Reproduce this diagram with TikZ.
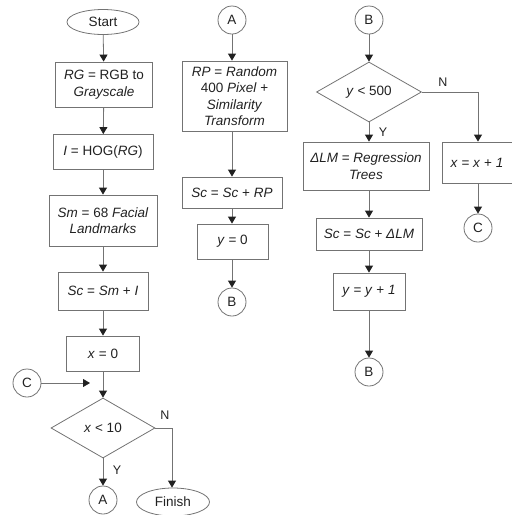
\documentclass[tikz,border=0pt]{standalone}
\usepackage{fontspec}
\setmainfont{Liberation Sans}
\usetikzlibrary{shapes.geometric,arrows.meta}
\definecolor{linegray}{gray}{0.45}
\definecolor{txt}{gray}{0.13}
\tikzset{
  base/.style={draw=linegray, line width=0.8pt, text=txt, align=center, inner sep=0pt,
    font=\fontsize{13.5}{16.5}\selectfont},
  box/.style={base, rectangle},
  term/.style={base, ellipse},
  conn/.style={base, circle, minimum size=28pt},
  dec/.style={base, diamond},
  arr/.style={draw=linegray, line width=0.8pt, -{Triangle[width=8pt,length=7pt,color=txt]}},
  plain/.style={draw=linegray, line width=0.8pt},
  lbl/.style={text=txt, font=\fontsize{12.5}{15}\selectfont, inner sep=0pt}
}
\begin{document}
\begin{tikzpicture}[x=1pt,y=-1pt]
\useasboundingbox (0,0) rectangle (512,515);
% column 1
\node[term, minimum width=72pt, minimum height=25pt] (start) at (103,22) {Start};
\node[box, minimum width=97pt, minimum height=45pt] (rg) at (104,84.5) {\textit{RG} = RGB to\\ \textit{Grayscale}};
\node[box, minimum width=100pt, minimum height=35pt] (hog) at (103,152) {\textit{I} = HOG(\textit{RG})};
\node[box, minimum width=108pt, minimum height=51pt] (sm) at (103,220.5) {\textit{Sm} = 68 \textit{Facial}\\ \textit{Landmarks}};
\node[box, minimum width=90pt, minimum height=38pt] (sc) at (103,291) {\textit{Sc} = \textit{Sm} + \textit{I}};
\node[box, minimum width=73pt, minimum height=35pt] (x0) at (103,353.5) {\textit{x} = 0};
\node[conn] (c1) at (27,383) {C};
\coordinate (cend) at (90,383);
\node[dec, minimum width=104pt, minimum height=60pt] (d1) at (103,428) {\textit{x} {\char"003C} 10};
\node[conn] (a1) at (103,500) {A};
\node[term, minimum width=73pt, minimum height=28pt] (fin) at (173,502) {Finish};
\coordinate (d1n) at (172,428);
% column 2
\node[conn] (a2) at (232,20) {A};
\node[box, minimum width=105pt, minimum height=70pt] (rp) at (234.5,96) {\textit{RP} = \textit{Random}\\ 400 \textit{Pixel} +\\ \textit{Similarity}\\ \textit{Transform}};
\node[box, minimum width=100pt, minimum height=31pt] (scrp) at (232,192.5) {\textit{Sc} = \textit{Sc} + \textit{RP}};
\node[box, minimum width=71pt, minimum height=35pt] (y0) at (232.5,241.5) {\textit{y} = 0};
\node[conn] (b1) at (232,302) {B};
% column 3
\node[conn] (b2) at (369,20) {B};
\node[dec, minimum width=105pt, minimum height=60pt] (d2) at (369,92) {\textit{y} {\char"003C} 500};
\node[box, minimum width=126pt, minimum height=48pt] (lm) at (366,166) {\textit{ΔLM} = \textit{Regression}\\ \textit{Trees}};
\node[box, minimum width=70pt, minimum height=41pt] (xx) at (477,162.5) {\textit{x} = \textit{x} + \textit{1}};
\node[conn] (c2) at (478,228) {C};
\node[box, minimum width=106pt, minimum height=32pt] (sclm) at (369,234) {\textit{Sc} = \textit{Sc} + \textit{ΔLM}};
\node[box, minimum width=72pt, minimum height=37pt] (yy) at (369,291.5) {\textit{y} = \textit{y} + \textit{1}};
\node[conn] (b3) at (369,372) {B};
% labels
\node[lbl] (n1) at (165,415) {N};
\node[lbl] (y1) at (117,470) {Y};
\node[lbl] (n2) at (443,82) {N};
\node[lbl] (y2) at (383,132) {Y};
% connectors
\draw[arr] (start) -- (rg);
\draw[arr] (rg) -- (hog);
\draw[arr] (hog) -- (sm);
\draw[arr] (sm) -- (sc);
\draw[arr] (sc) -- (x0);
\draw[arr] (x0) -- (d1);
\draw[arr] (c1) -- (cend);
\draw[arr] (d1) -- (a1);
\draw[arr] (d1.east) -- (d1n) -- (fin.north -| d1n);
\draw[arr] (a2) -- (rp.north -| a2);
\draw[arr] (rp.south -| scrp) -- (scrp);
\draw[arr] (scrp) -- (y0.north -| scrp);
\draw[arr] (y0.south -| b1) -- (b1);
\draw[arr] (b2) -- (d2);
\draw[arr] (d2) -- (lm.north -| d2);
\draw[arr] (lm.south -| sclm) -- (sclm);
\draw[arr] (sclm) -- (yy);
\draw[arr] (yy) -- (b3);
\draw[arr] (d2.east) -| (xx.north -| c2);
\draw[arr] (xx.south -| c2) -- (c2);
\end{tikzpicture}
\end{document}
